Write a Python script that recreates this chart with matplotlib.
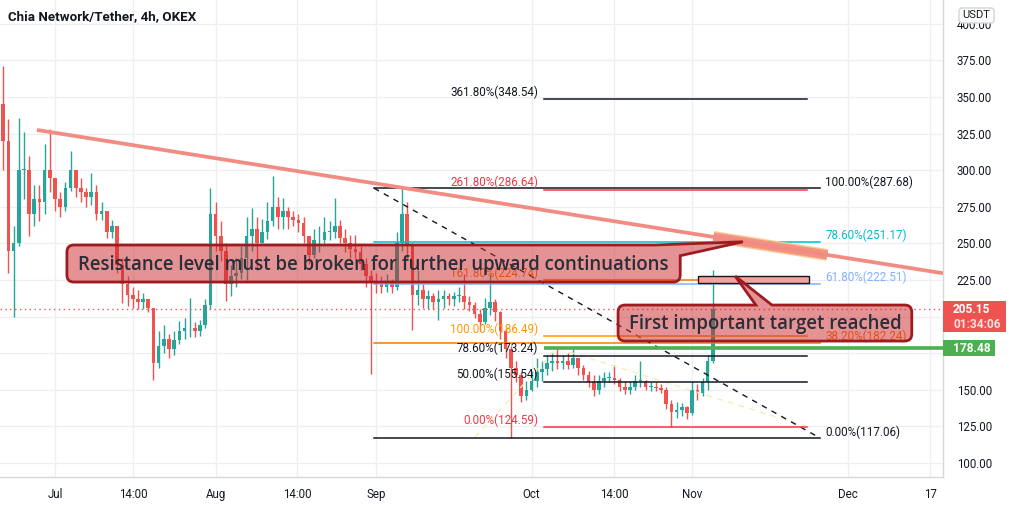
import matplotlib
matplotlib.use("Agg")
import matplotlib.pyplot as plt
from matplotlib.patches import Rectangle, PathPatch, FancyBboxPatch
from matplotlib.path import Path
from matplotlib.transforms import IdentityTransform
import matplotlib.patheffects as pe

plt.rcParams['font.family'] = ['Roboto', 'DejaVu Sans']

# ---------------- data (days relative to 1 Jul 2021, daily candles) ----------------
day_start = -10
first_open = 345.0
highs = [371, 335, 262, 336, 326, 310, 290, 290, 318, 328,
         295, 285, 292, 313, 300, 295, 288, 298, 290, 278,
         272, 266, 262, 240, 228, 220, 218, 216, 212, 206,
         190, 194, 188, 190, 197, 199, 213, 196, 198, 212,
         288, 278, 265, 250, 235, 240, 248, 268, 274, 268,
         267, 278, 296, 282, 281, 275, 272, 270, 268, 252,
         260, 262, 268, 265, 281, 266, 260, 256, 256, 248,
         240, 232, 230, 228, 229, 226, 258, 287.68, 278, 250,
         232, 222, 218, 216, 218, 218, 216, 217, 220, 229,
         214, 210, 205, 213, 229, 212, 204, 192, 180, 170,
         162, 156, 163, 172, 170, 174, 176, 179, 174, 175,
         178.48, 172, 167, 163, 160, 160, 162, 162, 167, 158,
         156, 156, 160, 170, 157, 155, 155, 154, 152, 143,
         142, 141, 139, 156, 154, 158, 174, 232]
lows = [300, 230, 200, 248, 280, 255, 262, 265, 270, 285,
        272, 268, 272, 286, 282, 278, 275, 276, 266, 266,
        254, 254, 230, 209, 207, 206, 205, 205, 203, 157,
        165, 175, 172, 174, 181, 185, 186, 186, 187, 192,
        205, 245, 238, 211, 214, 220, 226, 225, 245, 232,
        250, 253, 262, 260, 260, 260, 262, 258, 250, 236,
        240, 244, 250, 252, 254, 250, 244, 240, 240, 232,
        220, 161, 216, 216, 217, 216, 218, 245, 240, 191,
        208, 206, 205, 205, 198, 206, 208, 207, 210, 205,
        204, 199, 190, 195, 201, 197, 185, 172, 117.06, 155,
        142, 143, 149, 152, 156, 160, 163, 164, 164, 164,
        165, 160, 157, 152, 146, 147, 152, 155, 154, 149,
        147, 147, 150, 152, 150, 149, 149, 148, 137, 124.59,
        131, 132, 130, 133, 143, 146, 150, 168]
closes = [320, 245, 250, 300, 300, 270, 280, 278, 300, 295,
          280, 275, 288, 300, 288, 285, 282, 285, 270, 272,
          258, 262, 235, 222, 215, 212, 210, 212, 206, 168,
          180, 185, 178, 184, 190, 192, 192, 190, 194, 208,
          270, 255, 245, 222, 228, 230, 240, 255, 260, 250,
          258, 265, 275, 268, 272, 268, 266, 264, 255, 242,
          252, 252, 258, 258, 262, 254, 250, 246, 244, 236,
          228, 224, 222, 220, 224, 220, 250, 270, 248, 215,
          218, 212, 214, 210, 212, 214, 212, 214, 214, 210,
          208, 202, 196, 206, 210, 203, 190, 178, 165, 160,
          146, 150, 156, 162, 164, 168, 170, 168, 170, 167,
          172, 165, 160, 155, 150, 156, 158, 158, 157, 152,
          150, 152, 156, 156, 152, 152, 151, 150, 140, 135,
          136, 138, 134, 150, 148, 155, 170, 205.15]

x_tick_days = [0, 15.1, 31, 46.8, 62, 92, 107.9, 123, 153, 169]
x_tick_labels = ['Jul', '14:00', 'Aug', '14:00', 'Sep', 'Oct', '14:00', 'Nov', 'Dec', '17']
y_ticks = [100, 125, 150, 175, 200, 225, 250, 275, 300, 325, 350, 375, 400]
y_hidden = [175, 200]   # covered by the price tags

last_price = 205.15
countdown = '01:34:06'
level_price = 178.48

# resistance trend line anchors
trend_days = [-3.5, 67.1]
trend_prices = [327.5, 288.0]
highlight_days = [127.1, 149.1]

# fib retracement (A)
fibA_days = [61.6, 147.7]
fibA_ratios = ['100.00%', '78.60%', '61.80%', '38.20%', '0.00%']
fibA_prices = [287.68, 251.17, 222.51, 182.24, 117.06]
fibA_colors = ['#131722', '#00bcd4', '#82b1ff', '#f57c00', '#131722']

# fib extension (B)
fibB_days = [94.4, 145.2]
fibB_ratios = ['361.80%', '261.80%', '161.80%', '100.00%', '78.60%', '50.00%', '0.00%']
fibB_prices = [348.54, 286.64, 224.74, 186.49, 173.24, 155.54, 124.59]
fibB_colors = ['#131722', '#f23645', '#f57c00', '#ff9800', '#131722', '#131722', '#f23645']
fibB_path_days = [81.1, 96.9, 145.4]
fibB_path_prices = [117.8, 178.5, 124.5]

target_days = [124.2, 145.6]
target_prices = [222.9, 227.8]

note1 = 'Resistance level must be broken for further upward continuations'
note1_box = ([2.3, 120.7], [248.9, 223.6])
note1_tail = ([115.8, 132.8, 120.7], [248.9, 251.1, 241.6])
note2 = 'First important target reached'
note2_box = ([108.7, 165.4], [207.9, 183.3])
note2_tail = ([135.3, 131.3, 138.4], [207.9, 227.7, 207.9])

# ---------------- figure ----------------
W, H, DPI = 1011, 505, 100
fig = plt.figure(figsize=(W / DPI, H / DPI), dpi=DPI, facecolor='white')
ax = fig.add_axes([0, 28 / H, 943 / W, 477 / H])
ax.set_xlim(-55 / 5.18, 888 / 5.18)
ax.set_ylim(90.44, 416.26)
ax.set_facecolor('white')

for s in ['left', 'top']:
    ax.spines[s].set_visible(False)
for s in ['right', 'bottom']:
    ax.spines[s].set_color('#d6d8de')
    ax.spines[s].set_linewidth(1)

ax.yaxis.tick_right()
ax.set_yticks(y_ticks)
ax.set_yticklabels(['' if v in y_hidden else f'{v:.2f}' for v in y_ticks])
ax.set_xticks(x_tick_days)
ax.set_xticklabels(x_tick_labels)
ax.tick_params(axis='y', length=0, pad=10, labelsize=8.3, labelcolor='#131722')
ax.tick_params(axis='x', length=0, pad=8, labelsize=8.3, labelcolor='#131722')
ax.grid(True, color='#eeeff2', lw=0.9, zorder=0)
ax.set_axisbelow(True)

# candles
days = list(range(day_start, day_start + len(closes)))
opens = [first_open] + closes[:-1]
up_c, dn_c = '#26a69a', '#ef5350'
cols = [up_c if c >= o else dn_c for o, c in zip(opens, closes)]
ax.vlines(days, lows, highs, colors=cols, lw=1, zorder=2)
ax.bar(days, [max(abs(c - o), 0.5) for o, c in zip(opens, closes)],
       bottom=[min(o, c) for o, c in zip(opens, closes)],
       width=0.7, color=cols, linewidth=0, zorder=2)

# current price line
ax.axhline(last_price, color='#ef5350', lw=1, ls=(0, (1, 2.5)), zorder=2)

# fib A
for r, p, c in zip(fibA_ratios, fibA_prices, fibA_colors):
    ax.plot(fibA_days, [p, p], color=c, lw=1.1, zorder=3)
    ax.annotate(f'{r}({p:.2f})', (fibA_days[1], p), xytext=(5, 6), textcoords='offset pixels',
                ha='left', va='center', fontsize=8.4, color=c, zorder=3)
ax.plot(fibA_days, [fibA_prices[0], fibA_prices[-1]], color='#131722', lw=1,
        ls=(0, (4, 4)), zorder=3)

# fib B
ax.plot(fibB_path_days, fibB_path_prices, color='#f6eeb0', lw=1, ls=(0, (4, 4)), zorder=2.5)
for r, p, c in zip(fibB_ratios, fibB_prices, fibB_colors):
    ax.plot(fibB_days, [p, p], color=c, lw=1.1, zorder=3)
    ax.annotate(f'{r}({p:.2f})', (fibB_days[0], p), xytext=(-6, 7), textcoords='offset pixels',
                ha='right', va='center', fontsize=8.4, color=c, zorder=3)

# green level
ax.plot([94.4, ax.get_xlim()[1]], [level_price, level_price], color='#4caf50', lw=2.6,
        solid_capstyle='butt', zorder=3)

# trend line (ray)
slope = (trend_prices[1] - trend_prices[0]) / (trend_days[1] - trend_days[0])
x_end = ax.get_xlim()[1]
ax.plot([trend_days[0], x_end], [trend_prices[0], trend_prices[0] + slope * (x_end - trend_days[0])],
        color='#f28b82', lw=2.7, solid_capstyle='butt', zorder=3.5)
hl_p = [trend_prices[0] + slope * (d - trend_days[0]) for d in highlight_days]
ax.plot(highlight_days, hl_p, color='#f08a80', lw=6.5, alpha=0.85, solid_capstyle='butt', zorder=3.4,
        path_effects=[pe.Stroke(linewidth=8.5, foreground='#fbc890'), pe.Normal()])

# target rectangle
ax.add_patch(Rectangle((target_days[0], target_prices[0]), target_days[1] - target_days[0],
                       target_prices[1] - target_prices[0], facecolor='#f4a39c',
                       edgecolor='#131722', lw=1, zorder=4))

fig.canvas.draw()
T = ax.transData


def callout(box, tail, where, text):
    (L, B) = T.transform((box[0][0], box[1][1]))
    (R, Tp) = T.transform((box[0][1], box[1][0]))
    tp = [tuple(T.transform((d, p))) for d, p in zip(*tail)]
    r = 7
    verts, codes = [], []

    def mv(pt):
        verts.append(pt); codes.append(Path.MOVETO)

    def ln(pt):
        verts.append(pt); codes.append(Path.LINETO)

    def cv(c, pt):
        verts.extend([c, pt]); codes.extend([Path.CURVE3, Path.CURVE3])

    mv((L + r, Tp))
    if where == 'top':
        ln((tp[0][0], Tp)); ln(tp[1]); ln((tp[2][0], Tp))
        ln((R - r, Tp)); cv((R, Tp), (R, Tp - r))
    else:
        ln((tp[0][0], Tp)); ln(tp[1]); ln((R, tp[2][1]))
    ln((R, B + r)); cv((R, B), (R - r, B))
    ln((L + r, B)); cv((L, B), (L, B + r))
    ln((L, Tp - r)); cv((L, Tp), (L + r, Tp))
    verts.append((L + r, Tp)); codes.append(Path.CLOSEPOLY)
    patch = PathPatch(Path(verts, codes), facecolor=(0.80, 0.15, 0.17, 0.5),
                      edgecolor='#9e1c20', lw=2, transform=IdentityTransform(), zorder=5)
    fig.add_artist(patch)
    fig.text((L + R) / 2 / W, (B + Tp) / 2 / H - 0.002, text, ha='center', va='center',
             fontsize=13.4, fontweight='semibold', family=['Open Sans', 'DejaVu Sans'],
             color='#2a2e39', zorder=6)


callout(note1_box, note1_tail, 'topright', note1)
callout(note2_box, note2_tail, 'top', note2)

# right-axis price tags
axR = 943
_, yl = T.transform((0, last_price))
fig.add_artist(Rectangle((axR, yl - 23), 63, 31, facecolor='#ef5350', edgecolor='none',
                         transform=IdentityTransform(), zorder=6))
fig.text(953 / W, yl / H, f'{last_price:.2f}', ha='left', va='center', fontsize=8.6,
         fontweight='bold', color='white', zorder=7)
fig.text(953 / W, (yl - 15) / H, countdown, ha='left', va='center', fontsize=8.6,
         fontweight='bold', color='#ffe3e3', zorder=7)
_, yg = T.transform((0, level_price))
fig.add_artist(Rectangle((axR, yg - 8), 52, 16, facecolor='#4caf50', edgecolor='none',
                         transform=IdentityTransform(), zorder=6))
fig.text(953 / W, yg / H, f'{level_price:.2f}', ha='left', va='center', fontsize=8.6,
         fontweight='bold', color='white', zorder=7)

# USDT tag
fig.add_artist(FancyBboxPatch((959, H - 23), 35, 15, boxstyle='round,pad=0,rounding_size=3',
                              facecolor='white', edgecolor='#d1d4dc', lw=1,
                              transform=IdentityTransform(), zorder=6))
fig.text(976.5 / W, (H - 15.5) / H, 'USDT', ha='center', va='center', fontsize=8,
         color='#131722', zorder=7)

# title
fig.text(8 / W, 1 - 17 / H, 'Chia Network/Tether, 4h, OKEX', ha='left', va='center',
         fontsize=9.6, fontweight='semibold', color='#131722')

fig.savefig('out.png', dpi=DPI, facecolor='white')
